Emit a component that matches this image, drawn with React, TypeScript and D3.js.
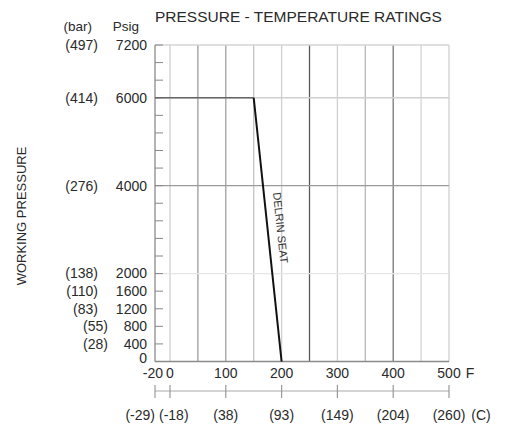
import React from "react";
import * as d3 from "d3";

// chart values
const psigTicks = [0, 400, 800, 1200, 1600, 2000, 2400, 2800, 3200, 3600, 4000, 4400, 4800, 5200, 5600, 6000, 6400, 6800, 7200];
const psigLabels = [7200, 6000, 4000, 2000, 1600, 1200, 800, 400, 0];
const barLabels = ["(497)", "(414)", "(276)", "(138)", "(110)", "(83)", "(55)", "(28)", ""];
const psigGrid = [2000, 4000, 6000, 7200];
const fTicks = [-20, 0, 100, 200, 300, 400, 500];
const cLabels = ["(-29)", "(-18)", "(38)", "(93)", "(149)", "(204)", "(260)"];
const fGrid = [0, 50, 100, 150, 200, 250, 300, 350, 400, 450, 500];
const delrinTemp = [-20, 150, 200];
const delrinPsig = [6000, 6000, 0];

// line shades for the vertical grid (by temperature)
const fGridColor: Record<number, string> = {
  0: "#cfcfcf", 50: "#9a9a9a", 100: "#a0a0a0", 150: "#c4c4c4", 200: "#cfcfcf",
  250: "#5a5a5a", 300: "#d0d0d0", 350: "#b8b8b8", 400: "#777", 450: "#d4d4d4", 500: "#cfcfcf",
};
const psigGridColor: Record<number, string> = { 2000: "#e6e6e6", 4000: "#9a9a9a", 6000: "#d0d0d0", 7200: "#d4d4d4" };

const W = 510, H = 425;
const font = "'Liberation Sans', Arial, sans-serif";
const ink = "#2a2a2a";

export default function App() {
  const x = d3.scaleLinear().domain([-20, 0, 500]).range([155, 170, 449]);
  const y = d3.scaleLinear().domain([0, 7200]).range([361.5, 45]);
  const x0 = x(-20), x1 = x(500), y0 = y(0), y1 = y(7200);
  const cAxisY = 391;

  const flat = d3.line<number>().x((_, i) => x(delrinTemp[i])).y((_, i) => y(delrinPsig[i]));
  const pts = delrinTemp.map((t, i) => [x(t), y(delrinPsig[i])]);
  const ang = (Math.atan2(pts[2][1] - pts[1][1], pts[2][0] - pts[1][0]) * 180) / Math.PI;
  // label sits beside the sloped segment, around 3000 psig
  const ly = y(3040);
  const lx = pts[1][0] + ((ly - pts[1][1]) / (pts[2][1] - pts[1][1])) * (pts[2][0] - pts[1][0]) + 13;

  return (
    <svg width={W} height={H} style={{ position: "absolute", left: 0, top: 0, background: "#fff" }} fontFamily={font}>
      <text x={x(-20)} y={22} fontSize={15.5} fill={ink}>PRESSURE - TEMPERATURE RATINGS</text>
      <text x={92} y={31} fontSize={13.5} fill={ink} textAnchor="end">(bar)</text>
      <text x={139} y={31} fontSize={13.5} fill={ink} textAnchor="end">Psig</text>
      <text transform={`translate(26,216) rotate(-90)`} fontSize={13} fill={ink} textAnchor="middle">WORKING PRESSURE</text>

      {/* grid */}
      {fGrid.map((f) => (
        <line key={"fg" + f} x1={x(f)} x2={x(f)} y1={y1} y2={y0} stroke={fGridColor[f]} strokeWidth={1.3} />
      ))}
      {psigGrid.map((p) => (
        <line key={"pg" + p} x1={x0} x2={x1} y1={y(p)} y2={y(p)} stroke={psigGridColor[p]} strokeWidth={1.3} />
      ))}
      <line x1={x0} x2={x0} y1={y1} y2={y0} stroke="#8a8a8a" strokeWidth={1.3} />
      <line x1={x0} x2={x1} y1={y0} y2={y0} stroke="#8a8a8a" strokeWidth={1.3} />

      {/* psig ticks */}
      {psigTicks.map((p) => (
        <line key={"pt" + p} x1={x0} x2={x0 + 8} y1={y(p)} y2={y(p)} stroke="#888" strokeWidth={1} />
      ))}
      {psigLabels.map((p, i) => (
        <g key={"pl" + p} fontSize={14} fill={ink}>
          <text x={147} y={y(p) - (p === 0 ? 3 : 0)} dy="0.35em" textAnchor="end">{p}</text>
          {barLabels[i] && (
            <text x={p < 1000 ? 108 : 98} y={y(p)} dy="0.35em" textAnchor="end">{barLabels[i]}</text>
          )}
        </g>
      ))}

      {/* delrin seat curve */}
      <path d={flat(delrinTemp.slice(0, 2)) ?? ""} stroke="#666" strokeWidth={1.6} fill="none" />
      <line x1={pts[1][0]} y1={pts[1][1]} x2={pts[2][0]} y2={pts[2][1]} stroke="#111" strokeWidth={2} />
      <text transform={`translate(${lx},${ly}) rotate(${ang})`} fontSize={11} fill="#333" textAnchor="middle" dy="0.35em">DELRIN SEAT</text>

      {/* F axis labels */}
      {fTicks.map((f) => (
        <text key={"fl" + f} x={f === -20 ? x(f) + 8 : x(f)} y={373} dy="0.35em" fontSize={14} fill={ink}
          textAnchor={f === -20 ? "end" : "middle"}>{f}</text>
      ))}
      <text x={470} y={373} dy="0.35em" fontSize={14} fill={ink} textAnchor="middle">F</text>

      {/* C axis */}
      <line x1={x0} x2={x1} y1={cAxisY} y2={cAxisY} stroke="#aaa" strokeWidth={1.2} />
      {fTicks.map((f) => (
        <line key={"ct" + f} x1={x(f)} x2={x(f)} y1={cAxisY - 6} y2={cAxisY + 7} stroke="#999" strokeWidth={1.2} />
      ))}
      {fTicks.map((f, i) => (
        <text key={"cl" + f} x={f === -20 ? x(f) : f === 0 ? x(f) - 11 : x(f)} y={415} dy="0.35em" fontSize={14} fill={ink}
          textAnchor={f === -20 ? "end" : f === 0 ? "start" : "middle"}>{cLabels[i]}</text>
      ))}
      <text x={481} y={415} dy="0.35em" fontSize={14} fill={ink} textAnchor="middle">(C)</text>
    </svg>
  );
}
